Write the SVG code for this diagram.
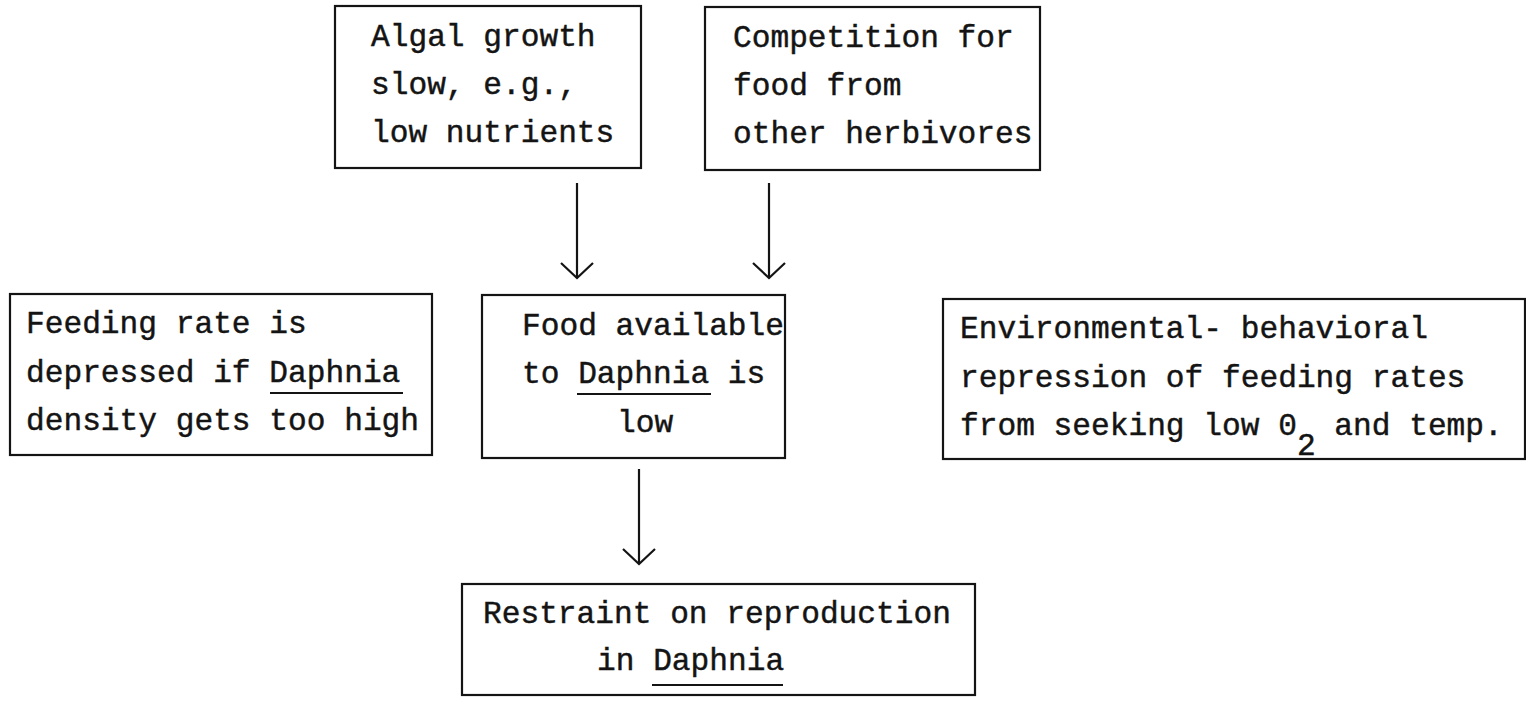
<svg xmlns="http://www.w3.org/2000/svg" width="1526" height="702" viewBox="0 0 1526 702">
<style>
.box{fill:none;stroke:#141414;stroke-width:2.2}
.t{font-family:"Liberation Mono","Courier New",monospace;font-size:31.2px;fill:#141414;stroke:#141414;stroke-width:0.45}
.ul{stroke:#141414;stroke-width:2}
.conn{stroke:#141414;stroke-width:2.2;fill:none}
</style>
<defs>
<marker id="vhead" markerUnits="userSpaceOnUse" markerWidth="40" markerHeight="40" refX="0" refY="0" orient="auto" overflow="visible">
<path d="M -15 -16 L 0 0 L -15 16" fill="none" stroke="#141414" stroke-width="2.2"/>
</marker>
</defs>
<rect width="1526" height="702" fill="#ffffff"/>

<g id="node-algal">
<rect class="box" x="335" y="6" width="306" height="162"/>
<text class="t" x="371" y="46">Algal growth</text>
<text class="t" x="371" y="94">slow, e.g.,</text>
<text class="t" x="371" y="142">low nutrients</text>
</g>

<g id="node-competition">
<rect class="box" x="705" y="7" width="335" height="163"/>
<text class="t" x="733" y="47">Competition for</text>
<text class="t" x="733" y="95">food from</text>
<text class="t" x="733" y="143">other herbivores</text>
</g>

<g id="node-feeding">
<rect class="box" x="10" y="294" width="422" height="161"/>
<text class="t" x="26" y="333">Feeding rate is</text>
<text class="t" x="26" y="382">depressed if Daphnia</text>
<line class="ul" x1="270" y1="393" x2="403" y2="393"/>
<text class="t" x="26" y="430">density gets too high</text>
</g>

<g id="node-food">
<rect class="box" x="482" y="295" width="303" height="163"/>
<text class="t" x="522" y="335">Food available</text>
<text class="t" x="522" y="383">to Daphnia is</text>
<line class="ul" x1="577" y1="394" x2="711" y2="394"/>
<text class="t" x="617" y="432">low</text>
</g>

<g id="node-environmental">
<rect class="box" x="943" y="299" width="582" height="160"/>
<text class="t" x="960" y="338">Environmental- behavioral</text>
<text class="t" x="960" y="387">repression of feeding rates</text>
<text class="t" x="960" y="435">from seeking low 0<tspan dy="20">2</tspan><tspan dy="-20"> and temp.</tspan></text>
</g>

<g id="node-restraint">
<rect class="box" x="462" y="584" width="513" height="111"/>
<text class="t" x="483" y="623">Restraint on reproduction</text>
<text class="t" x="597" y="670">in Daphnia</text>
<line class="ul" x1="652" y1="685" x2="783" y2="685"/>
</g>

<g id="connectors">
<line class="conn" x1="577" y1="183" x2="577" y2="278" marker-end="url(#vhead)"/>
<line class="conn" x1="769" y1="183" x2="769" y2="278" marker-end="url(#vhead)"/>
<line class="conn" x1="639" y1="469" x2="639" y2="564" marker-end="url(#vhead)"/>
</g>
</svg>
